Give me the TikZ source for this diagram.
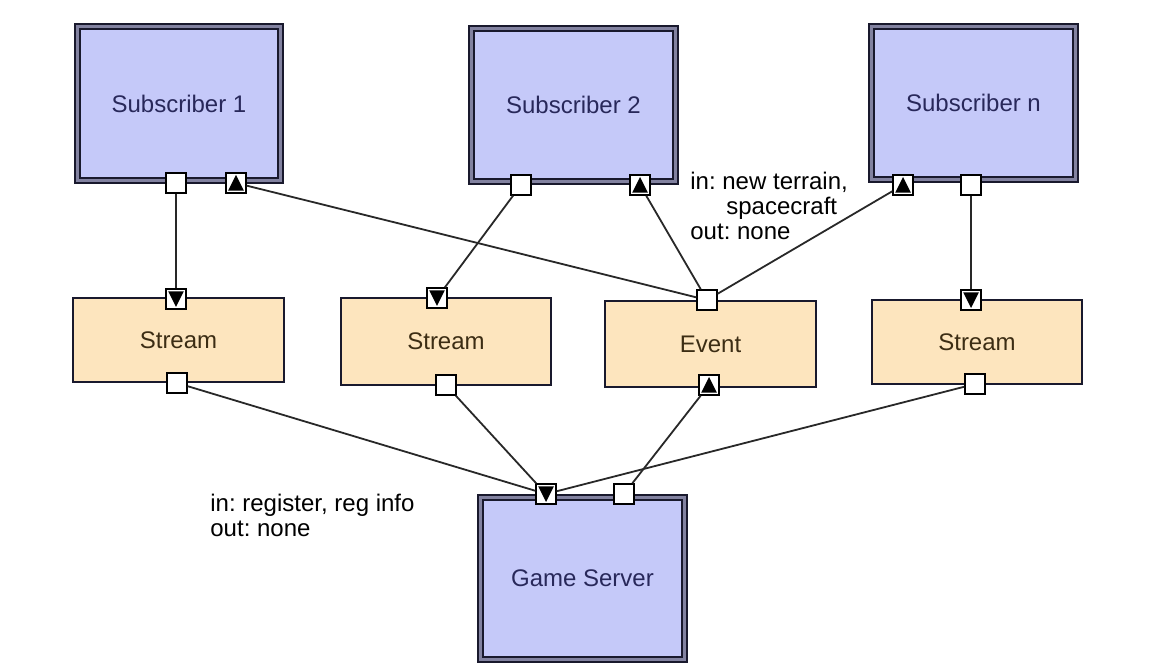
\documentclass[tikz,border=0pt]{standalone}
\usepackage{fontspec}
\setmainfont{Liberation Sans}
\frenchspacing
\definecolor{subfill}{RGB}{197,201,249}
\definecolor{streamfill}{RGB}{253,229,190}
\definecolor{boxline}{RGB}{25,25,45}
\definecolor{gapcol}{RGB}{130,130,160}
\definecolor{subtext}{RGB}{40,40,90}
\definecolor{streamtext}{RGB}{60,45,20}
\definecolor{conncol}{RGB}{40,40,40}
\begin{document}
\begin{tikzpicture}[x=0.5pt,y=-0.5pt,
  lbl/.style={font=\fontsize{12}{12.5}\selectfont},
  subbox/.style={draw=boxline, line width=1pt, double=gapcol, double distance=1.1pt,
    fill=subfill, text=subtext, inner sep=0pt, lbl},
  strbox/.style={draw=boxline, line width=0.85pt, fill=streamfill, text=streamtext,
    inner sep=0pt, lbl},
  port/.style={draw=black, fill=white, line width=0.7pt, minimum size=10pt, inner sep=0pt},
  portup/.style={port, path picture={\fill[black]
      ([xshift=-3.9pt,yshift=-3.8pt]path picture bounding box.center) -- ++(7.8pt,0) -- ++(-3.9pt,7.8pt) -- cycle;}},
  portdown/.style={port, path picture={\fill[black]
      ([xshift=-3.9pt,yshift=3.8pt]path picture bounding box.center) -- ++(7.8pt,0) -- ++(-3.9pt,-7.8pt) -- cycle;}},
  conn/.style={draw=conncol, line width=0.9pt},
  note/.style={lbl, align=left, inner sep=0pt, anchor=north west}
]
\useasboundingbox (0,0) rectangle (1153,667);
\fill[white] (0,0) rectangle (1153,667);

% subscriber boxes
\node[subbox, minimum width=101.5pt, minimum height=77pt] (s1) at (179,103.5) {Subscriber 1};
\node[subbox, minimum width=102pt, minimum height=76.5pt] (s2) at (573.5,105) {Subscriber 2};
\node[subbox, minimum width=102pt, minimum height=76.5pt] (sn) at (973.5,103) {Subscriber n};
\node[subbox, minimum width=102pt, minimum height=81pt] (gs) at (582.5,578.5) {Game Server};

% stream / event boxes
\node[strbox, minimum width=105.5pt, minimum height=42pt] (st1) at (178.5,340) {Stream};
\node[strbox, minimum width=105pt, minimum height=43.5pt] (st2) at (446,341.5) {Stream};
\node[strbox, minimum width=105.5pt, minimum height=43pt] (ev) at (710.5,344) {Event};
\node[strbox, minimum width=105pt, minimum height=42pt] (stn) at (977,342) {Stream};

% ports
\node[port] (s1o) at (176,183) {};
\node[portup] (s1i) at (236,183) {};
\node[port] (s2o) at (521,185) {};
\node[portup] (s2i) at (640,185) {};
\node[portup] (sni) at (903,185) {};
\node[port] (sno) at (971,185) {};

\node[portdown] (st1i) at (176,299) {};
\node[port] (st1o) at (177,383) {};
\node[portdown] (st2i) at (437,298) {};
\node[port] (st2o) at (446,385) {};
\node[port] (evi) at (707,300) {};
\node[portup] (evo) at (709,385) {};
\node[portdown] (stni) at (971,300) {};
\node[port] (stno) at (975,384) {};

\node[portdown] (gsi) at (546,494) {};
\node[port] (gso) at (624,494) {};

% connectors
\draw[conn] (s1o) -- (st1i);
\draw[conn] (s2o) -- (st2i);
\draw[conn] (sno) -- (stni);
\draw[conn] (s1i) -- (evi);
\draw[conn] (s2i) -- (evi);
\draw[conn] (sni) -- (evi);
\draw[conn] (st1o) -- (gsi);
\draw[conn] (st2o) -- (gsi);
\draw[conn] (stno) -- (gsi);
\draw[conn] (evo) -- (gso);

% notes
\node[note] (n1) at (690,172) {in: new terrain,\\\hspace*{18pt}spacecraft\\out: none};
\node[note] (n2) at (210,494) {in: register, reg info\\out: none};
\end{tikzpicture}
\end{document}
